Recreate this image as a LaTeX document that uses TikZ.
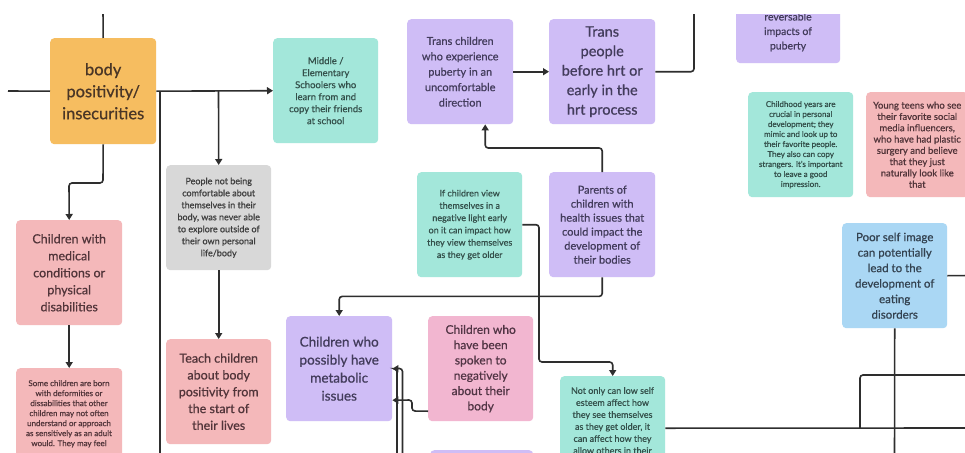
\documentclass[tikz,border=0pt]{standalone}
\usepackage{fontspec}
\setmainfont{Lato}[FakeBold=0.7]
\usetikzlibrary{arrows.meta}
\definecolor{orange1}{HTML}{F6BD60}
\definecolor{orangetxt}{HTML}{4A3626}
\definecolor{teal1}{HTML}{A3E7DA}
\definecolor{tealtxt}{HTML}{34504B}
\definecolor{purple1}{HTML}{CFBDF6}
\definecolor{purpletxt}{HTML}{433C5C}
\definecolor{gray1}{HTML}{D8D8D8}
\definecolor{graytxt}{HTML}{3E3E3E}
\definecolor{pink1}{HTML}{F4B8BA}
\definecolor{pinktxt}{HTML}{52353A}
\definecolor{mag1}{HTML}{F2B6D0}
\definecolor{magtxt}{HTML}{523545}
\definecolor{blue1}{HTML}{AAD7F4}
\definecolor{bluetxt}{HTML}{334250}
\definecolor{linec}{HTML}{2E2E2E}
\newcommand\myfs[2]{\fontsize{#1}{#2}\selectfont}
\begin{document}
\begin{tikzpicture}[x=1pt,y=-1pt,
 box/.style={rounded corners=4pt, anchor=north west, minimum width=105pt, minimum height=105pt, align=center, inner sep=2pt},
 conn/.style={draw=linec, line width=1.6pt, rounded corners=3pt},
 arr/.style={conn, -{Triangle[length=6pt,width=7pt]}},
]
\useasboundingbox (0,0) rectangle (965,452);
\fill[white] (0,0) rectangle (965,452);
\begin{scope}
\clip (0,15) rectangle (965,452);
% nodes
\node[box, fill=orange1, text=orangetxt, minimum width=106pt, minimum height=106pt, font=\myfs{16.5}{22}] (bp) at (50,38) {body\\positivity/\\insecurities};
\node[box, fill=teal1, text=tealtxt, font=\myfs{9.5}{12}] (midel) at (273,38) {Middle /\\Elementary\\Schoolers who\\learn from and\\copy their friends\\at school};
\node[box, fill=gray1, text=graytxt, font=\myfs{9}{12}] (gray) at (166,165) {People not being\\comfortable about\\themselves in their\\body, was never able\\to explore outside of\\their own personal\\life/body};
\node[box, fill=pink1, text=pinktxt, font=\myfs{12.5}{16.8}] (teach) at (166,339) {Teach children\\about body\\positivity from\\the start of\\their lives};
\node[box, fill=pink1, text=pinktxt, minimum width=106pt, font=\myfs{12.5}{17}] (med) at (16,220) {Children with\\medical\\conditions or\\physical\\disabilities};
\node[box, fill=pink1, minimum width=106pt, minimum height=110pt] (some) at (16,368) {};
\node[anchor=north, align=center, inner sep=0pt, text=pinktxt, font=\myfs{8}{10}] (somet) at (69,380) {Some children are born\\with deformities or\\dissabilities that other\\children may not often\\understand or approach\\as sensitively as an adult\\would. They may feel};
\node[box, fill=purple1, text=purpletxt, minimum width=106pt, font=\myfs{11}{15.4}] (trch) at (407,19) {Trans children\\who experience\\puberty in an\\uncomfortable\\direction};
\node[box, fill=purple1, text=purpletxt, minimum width=106pt, font=\myfs{14.5}{19.5}] (trpe) at (549,19) {Trans\\people\\before hrt or\\early in the\\hrt process};
\node[box, fill=purple1, minimum width=104pt, minimum height=70pt] (rev) at (736,-7) {};
\node[align=center, inner sep=0pt, text=purpletxt, font=\myfs{10.5}{14.5}] (revt) at (788,32) {reversable\\impacts of\\puberty};
\node[box, fill=teal1, text=tealtxt, font=\myfs{8}{10}] (child) at (748,92) {Childhood years are\\crucial in personal\\development; they\\mimic and look up to\\their favorite people.\\They also can copy\\strangers. It's important\\to leave a good\\impression.};
\node[box, fill=pink1, text=pinktxt, minimum width=102pt, font=\myfs{9.5}{11.3}] (teens) at (866,92) {Young teens who see\\their favorite social\\media influencers,\\who have had plastic\\surgery and believe\\that they just\\naturally look like\\that};
\node[box, fill=teal1, text=tealtxt, font=\myfs{9}{12.3}] (ifch) at (417,172) {If children view\\themselves in a\\negative light early\\on it can impact how\\they view themselves\\as they get older};
\node[box, fill=purple1, text=purpletxt, minimum width=106pt, font=\myfs{11}{14}] (par) at (549,172) {Parents of\\children with\\health issues that\\could impact the\\development of\\their bodies};
\node[box, fill=purple1, text=purpletxt, minimum width=106pt, font=\myfs{13.5}{18}] (meta) at (286,316) {Children who\\possibly have\\metabolic\\issues};
\node[box, fill=mag1, text=magtxt, font=\myfs{12}{15.3}] (spok) at (428,316) {Children who\\have been\\spoken to\\negatively\\about their\\body};
\node[box, fill=blue1, text=bluetxt, font=\myfs{11.5}{15.5}] (poor) at (842,223) {Poor self image\\can potentially\\lead to the\\development of\\eating\\disorders};
\node[box, fill=teal1, minimum height=110pt] (notonly) at (560,376) {};
\node[anchor=north, align=center, inner sep=0pt, text=tealtxt, font=\myfs{9}{12}] (notonlyt) at (612.5,387) {Not only can low self\\esteem affect how\\they see themselves\\as they get older, it\\can affect how they\\allow others in their};
\node[box, fill=purple1, minimum width=103pt, minimum height=40pt] (botp) at (430,450) {};
% coordinates
\coordinate (top1) at (103,10);
\coordinate (left1) at (8,91);
\coordinate (j1) at (160,91);
\coordinate (j1b) at (160,460);
\coordinate (j2) at (218.5,91);
\coordinate (top2) at (694,10);
\coordinate (b1) at (397,460);
\coordinate (b2) at (402.5,460);
\coordinate (r1) at (970,428);
\coordinate (j3) at (860,428);
\coordinate (r2) at (970,375);
\coordinate (r3) at (970,275.5);
\coordinate (b3) at (894.5,460);
% connectors
\draw[conn] (top1) -- (bp.north);
\draw[conn] (left1) -- (bp.west);
\draw[arr] (bp.east) -- (midel.west);
\draw[conn] (j1) -- (j1b);
\draw[arr] (j2) -- (gray.north);
\draw[arr] (bp.south) -- (103,183) -- (69,183) -- (med.north);
\draw[arr] (med.south) -- (some.north);
\draw[arr] (gray.south) -- (teach.north);
\draw[arr] (trch.east) -- (trpe.west);
\draw[conn] (trpe.east) -| (top2);
\draw[arr] (par.north) -- ++(0,-24) -| ([xshift=25pt]trch.south);
\draw[arr] (par.south) -- ++(0,19) -| (meta.north);
\draw[arr] (ifch.east) -| (539,362) -| (notonly.north);
\draw[arr] ([yshift=-42.5pt]spok.west) -- (412,411) -- (412,400) -- ([yshift=-31.5pt]meta.east);
\draw[arr] (b1) |- (meta.east);
\draw[conn] (b2) |- (397,368.5);
\draw[conn] ([yshift=3pt]notonly.east) -- (r1);
\draw[conn] (j3) |- (r2);
\draw[conn] (poor.south) -- (b3);
\draw[conn] (poor.east) -- (r3);
\end{scope}
\end{tikzpicture}
\end{document}
